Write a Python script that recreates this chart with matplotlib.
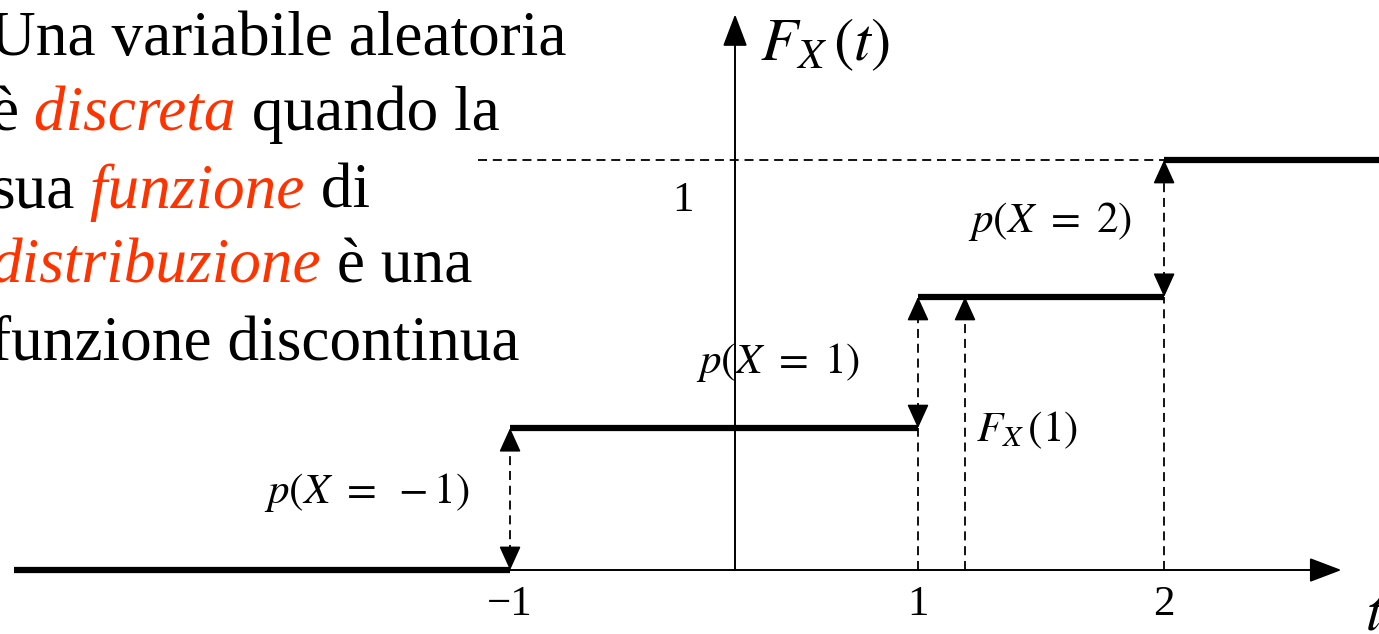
import matplotlib.pyplot as plt
import numpy as np

plt.rcParams['mathtext.fontset'] = 'stix'
plt.rcParams['font.family'] = ['Liberation Serif', 'DejaVu Serif']

# schematic positions of the jumps on the t axis (diagram is not to scale)
jump_t = [-1.0, 0.813, 1.907]
jump_lbl = ['\u22121', '1', '2']
levels = [0.0, 0.346, 0.666, 1.0]   # F_X before/after each jump
t_ref = 1.022                        # point used to mark F_X(1)
jump_txt = ['$p(X\\ =\\ -1)$', '$p(X\\ =\\ 1)$', '$p(X\\ =\\ 2)$']

# left text block: (text, red italic?)
lines = [
    [('Una variabile aleatoria', False)],
    [('\u00e8', False), (' discreta', True), (' quando la', False)],
    [('sua', False), (' funzione', True), (' di', False)],
    [('distribuzione', True), (' \u00e8 una', False)],
    [('funzione discontinua', False)],
]

red = '#FF3300'
fig = plt.figure(figsize=(13.79, 6.34), dpi=100)
ax = fig.add_axes([0, 0, 1, 1])
ax.set_xlim(-3.267, 2.862)
ax.set_ylim(-0.156, 1.390)
ax.axis('off')

# axes with arrows
ax.plot([-3.2, 2.62], [0, 0], color='k', lw=1.4)
ax.plot([0, 0], [0, 1.30], color='k', lw=1.4)
ax.annotate('', xy=(2.695, 0), xytext=(2.60, 0),
            arrowprops=dict(arrowstyle='-|>,head_length=1.0,head_width=0.38',
                            color='k', lw=1.4, shrinkA=0, shrinkB=0, mutation_scale=20))
ax.annotate('', xy=(0, 1.355), xytext=(0, 1.28),
            arrowprops=dict(arrowstyle='-|>,head_length=1.0,head_width=0.38',
                            color='k', lw=1.4, shrinkA=0, shrinkB=0, mutation_scale=20))

# step function
xs = [-3.204] + jump_t + [2.862]
for i in range(len(levels)):
    ax.plot([xs[i], xs[i + 1]], [levels[i], levels[i]], color='k', lw=4.5,
            solid_capstyle='butt')

dash = dict(color='k', lw=1.3, dashes=(5, 3.2))

# dashed guide for level 1
ax.plot([-1.142, jump_t[-1]], [1.0, 1.0], **dash)

head = dict(arrowstyle='-|>,head_length=0.75,head_width=0.34', color='k', lw=1.1,
            shrinkA=0, shrinkB=0, mutation_scale=20)

def arrow_head(x, tip, base):
    ax.annotate('', xy=(x, tip), xytext=(x, base), arrowprops=head)

for i, t in enumerate(jump_t):
    lo, hi = levels[i], levels[i + 1]
    if lo > 0:
        ax.plot([t, t], [0, lo], **dash)
    ax.plot([t, t], [lo + 0.04, hi - 0.04], **dash)
    arrow_head(t, hi, hi - 0.05)
    arrow_head(t, lo, lo + 0.05)

# F_X(1) marker
ax.plot([t_ref, t_ref], [0, levels[2] - 0.04], **dash)
arrow_head(t_ref, levels[2], levels[2] - 0.05)

# labels
fs = 31
ax.text(-1.636, 0.19, jump_txt[0], fontsize=fs, ha='center', va='center')
ax.text(0.19, 0.505, jump_txt[1], fontsize=fs, ha='center', va='center')
ax.text(1.40, 0.849, jump_txt[2], fontsize=fs, ha='center', va='center')
ax.text(1.07, 0.34, '$F_X\\,(1)$', fontsize=fs, ha='left', va='center')
ax.text(0.11, 1.28, '$F_X\\,(t)$', fontsize=44, ha='left', va='center')
ax.text(-0.231, 0.90, '1', fontsize=fs, ha='center', va='center')
for t, lbl in zip(jump_t, jump_lbl):
    ax.text(t, -0.085, lbl, fontsize=fs, ha='center', va='center')
ax.text(2.80, -0.11, '$t$', fontsize=42, ha='left', va='center')

# left text block
base_y = [1.255, 1.072, 0.884, 0.702, 0.514]
for yb, segs in zip(base_y, lines):
    prev = None
    for txt, hl in segs:
        kw = dict(fontsize=45.5, va='baseline', ha='left',
                  color=red if hl else 'k', style='italic' if hl else 'normal')
        if prev is None:
            prev = ax.text(-3.311, yb, txt, **kw)
        else:
            prev = ax.annotate(txt, xy=(1, yb), xycoords=(prev, 'data'), **kw)

fig.savefig('out.png', dpi=100)
